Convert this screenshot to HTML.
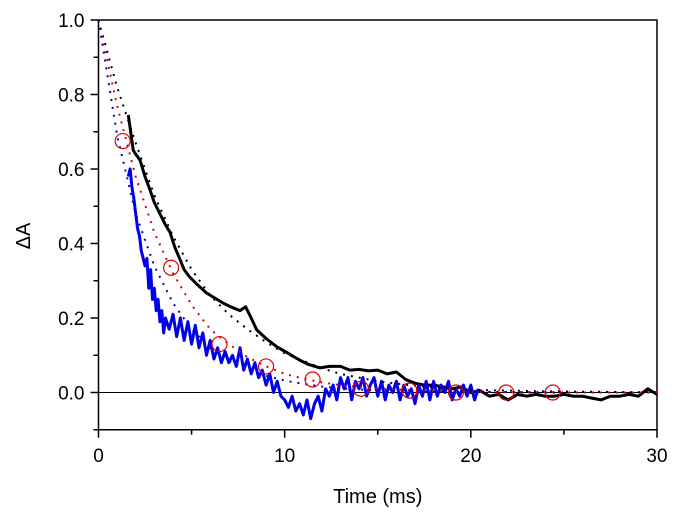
<!DOCTYPE html>
<html><head><meta charset="utf-8"><style>
body{margin:0;background:#fff}
svg{display:block;font-family:"Liberation Sans",sans-serif}
</style></head><body>
<svg id="chart" width="677" height="523"></svg>
<script>
const blackT=[1.6,1.87,2.0,2.23,2.5,2.77,3.0,3.3,3.6,3.84,4.1,4.38,4.6,4.9,5.3,5.8,6.2,6.7,7.1,7.6,7.9,8.2,8.5,9.0,9.57,10.2,10.8,11.3,11.9,12.4,13,13.5,14,14.5,15,15.5,16,16.5,17,17.5,18,18.5,19,19.5,20,20.5,21,21.5,22,22.5,23,23.5,24,24.5,25,25.5,26,26.5,27,27.5,28,28.5,29,29.5,30];
const blackV=[.745,.65,.64,.624,.58,.543,.51,.48,.45,.43,.39,.357,.33,.31,.29,.267,.255,.24,.23,.22,.23,.2,.168,.145,.123,.105,.087,.075,.066,.07,.07,.06,.062,.058,.06,.05,.055,.035,.025,.02,.02,.015,.01,.015,0,.005,-.01,-.005,-.02,-.005,-.01,-.005,-.01,-.01,-.005,-.01,-.01,-.015,-.02,-.01,-.01,-.005,-.01,.01,-.005];
const blueT=[1.6,1.7,1.8,1.9,2.0,2.1,2.2,2.3,2.4,2.5,2.6,2.7,2.8,2.9,3.0,3.1,3.2,3.3,3.4,3.5,3.6,3.8,4.0,4.2,4.4,4.6,4.8,5.0,5.2,5.4,5.6,5.8,6.0,6.2,6.4,6.6,6.8,7.0,7.2,7.4,7.6,7.8,8.0,8.2,8.4,8.6,8.8,9.0,9.2,9.4,9.6,9.8,10.0,10.2,10.4,10.6,10.8,11.0,11.2,11.4,11.6,11.8,12.0,12.2,12.4,12.6,12.8,13.0,13.2,13.4,13.6,13.8,14.0,14.2,14.4,14.6,14.8,15.0,15.2,15.4,15.6,15.8,16.0,16.2,16.4,16.6,16.8,17,17.2,17.4,17.6,17.8,18,18.2,18.4,18.6,18.8,19,19.2,19.4,19.6,19.8,20,20.2,20.4];
const blueV=[.58,.60,.55,.52,.48,.44,.42,.38,.36,.34,.36,.28,.33,.25,.28,.22,.25,.19,.22,.16,.20,.17,.21,.15,.20,.14,.19,.13,.18,.12,.16,.10,.14,.09,.12,.08,.11,.08,.10,.07,.12,.06,.09,.05,.08,.04,.06,.02,.05,0,.03,-.01,-.02,-.04,-.01,-.05,-.03,-.06,-.02,-.07,-.03,-.01,-.05,.01,-.01,.02,-.02,.04,.01,.04,-.02,.03,.01,.04,-.01,.02,.04,-.01,.03,-.02,.02,0,.03,-.02,.02,-.01,.01,-.03,.02,-.01,.03,-.02,.03,-.01,.02,0,.03,-.02,.01,-.01,.02,-.01,.02,-.02,.01];
const fitT=[0,1,2,3,4,5,6,7,8,9,10,11,12,13,14,15,16,17,18,19,20,21,22,23,24,25,26,27,28,29,30];
const fitBlack=[1.0,.82,.67,.53,.42,.33,.26,.21,.17,.135,.105,.085,.065,.05,.04,.03,.024,.018,.014,.01,.008,.006,.005,.004,.003,.003,.002,.002,.001,.001,.001];
const fitRed=[1.0,.77,.58,.43,.32,.235,.17,.13,.095,.07,.05,.037,.027,.02,.015,.011,.008,.006,.004,.003,.002,.002,.001,.001,.001,0,0,0,0,0,0];
const fitBlue=[1.0,.69,.48,.34,.24,.17,.12,.085,.06,.045,.032,.023,.016,.011,.008,.005,.004,.003,.002,.002,.001,.001,.001,0,0,0];
const circT=[1.3,3.9,6.5,9.0,11.5,14.1,16.7,19.2,21.9,24.4];
const circV=[.675,.335,.13,.07,.035,.01,.005,0,0,0];
const xTicks=[0,10,20,30];
const yTicks=[0.0,0.2,0.4,0.6,0.8,1.0];

const NS="http://www.w3.org/2000/svg";
const svg=document.getElementById('chart');
const X0=98.5,X1=657,Y0=392.5,Y1=20;
const xs=t=>X0+(X1-X0)*t/30;
const ys=v=>Y0-(Y0-Y1)*v;
function mk(tag,attrs,parent){const e=document.createElementNS(NS,tag);for(const k in attrs)e.setAttribute(k,attrs[k]);(parent||svg).appendChild(e);return e;}

let f=mk('rect',{x:X0,y:Y1,width:X1-X0,height:ys(-0.1)-Y1,fill:'none',stroke:'#000','stroke-width':1.5});


let z=mk('line',{x1:X0,x2:X1,y1:ys(0),y2:ys(0),stroke:'#000','stroke-width':1});


const YB=ys(-0.1);
for(let t=0;t<=30;t+=5){
  const l=mk('line',{x1:xs(t),x2:xs(t),y1:YB,y2:YB+(t%10==0?8:5),stroke:'#000','stroke-width':1.5});
  
  
}
xTicks.forEach(t=>{
  const tx=mk('text',{x:xs(t),y:YB+32,'text-anchor':'middle','font-size':19});
  tx.textContent=t;
  
  
});
for(let i=-1;i<=10;i++){
  const v=i/10;
  const l=mk('line',{x1:X0-(i%2==0?8:5),x2:X0,y1:ys(v),y2:ys(v),stroke:'#000','stroke-width':1.5});
  
  
}
yTicks.forEach(v=>{
  const tx=mk('text',{x:X0-14,y:ys(v)+7,'text-anchor':'end','font-size':19});
  tx.textContent=v.toFixed(1);
  
  
});
let xt=mk('text',{x:(X0+X1)/2,y:503,'text-anchor':'middle','font-size':20});
xt.textContent='Time (ms)';


let yt=mk('text',{x:0,y:0,'text-anchor':'middle','font-size':20,transform:'translate(30,236) rotate(-90)'});
yt.textContent='ΔA';



function pts(T,V){return T.slice(0,V.length).map((t,i)=>xs(t).toFixed(1)+','+ys(V[i]).toFixed(1)).join(' ');}
let p;
p=mk('polyline',{points:pts(blackT,blackV),fill:'none',stroke:'#000','stroke-width':3,'stroke-linejoin':'round'});


p=mk('polyline',{points:pts(blueT,blueV),fill:'none',stroke:'#0000ee','stroke-width':3,'stroke-linejoin':'round'});


p=mk('polyline',{points:pts(fitT,fitBlack),fill:'none',stroke:'#000','stroke-width':2,'stroke-dasharray':'2 6'});


p=mk('polyline',{points:pts(fitT,fitRed),fill:'none',stroke:'#e00000','stroke-width':2,'stroke-dasharray':'2 6'});


p=mk('polyline',{points:pts(fitT,fitBlue),fill:'none',stroke:'#0000cc','stroke-width':2,'stroke-dasharray':'2 6'});


circT.forEach((t,i)=>{
  const c=mk('circle',{cx:xs(t),cy:ys(circV[i]),r:7.5,fill:'none',stroke:'#e00000','stroke-width':1.2});
  
  
});
</script>
</body></html>
